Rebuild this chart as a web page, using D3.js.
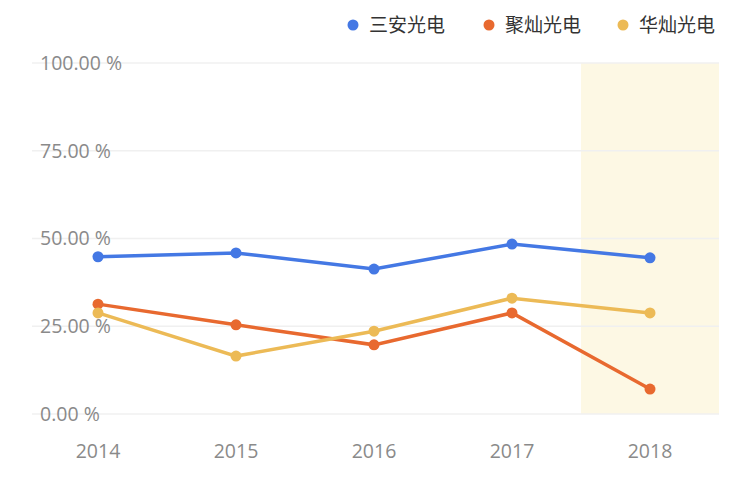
<!DOCTYPE html><html><head><meta charset="utf-8"><script src="https://cdn.jsdelivr.net/npm/d3@7"></script>
<style>body{margin:0;background:#fff;font-family:"Noto Sans CJK SC","Noto Sans",sans-serif}</style></head><body><svg width="744" height="481"></svg>
<script>
const years=["2014","2015","2016","2017","2018"];
const seriesNames=["三安光电","聚灿光电","华灿光电"];
const sanan=[44.8,45.9,41.3,48.4,44.5];
const jucan=[31.3,25.4,19.7,28.8,7.1];
const huacan=[28.8,16.5,23.6,33.0,28.8];
const yTicks=[0,25,50,75,100];
const colors=["#4478e4","#e8692f","#ecba56"];
const data=[sanan,jucan,huacan];
const svg=d3.select("svg");
const x=d3.scaleBand().domain(years).range([29,719]);
const y=d3.scaleLinear().domain([0,100]).range([414,63]);
svg.append("rect").attr("x",x("2018")).attr("y",y(100)).attr("width",x.bandwidth()).attr("height",y(0)-y(100)).attr("fill","#fdf8e4");
svg.selectAll(".g").data(yTicks).join("line").attr("x1",32).attr("x2",719).attr("y1",d=>y(d)).attr("y2",d=>y(d)).attr("stroke","#f0f0f0").attr("stroke-width",1.5);
svg.selectAll(".yl").data(yTicks).join("text").attr("x",40).attr("y",d=>y(d)).attr("dy","0.35em").attr("fill","#8a8a8a").attr("font-size",19.5).attr("font-family","'Open Sans', sans-serif").text(d=>d3.format(".2f")(d)+" %");
svg.selectAll(".xl").data(years).join("text").attr("x",d=>x(d)+x.bandwidth()/2).attr("y",458).attr("text-anchor","middle").attr("fill","#8a8a8a").attr("font-size",19.5).attr("font-family","'Open Sans', sans-serif").text(d=>d);
const line=d3.line().x((d,i)=>x(years[i])+x.bandwidth()/2).y(d=>y(d));
data.forEach((s,k)=>{
 svg.append("path").attr("d",line(s)).attr("fill","none").attr("stroke",colors[k]).attr("stroke-width",3.5);
 svg.selectAll(null).data(s).join("circle").attr("cx",(d,i)=>x(years[i])+x.bandwidth()/2).attr("cy",d=>y(d)).attr("r",5.5).attr("fill",colors[k]);
});
const lx=[353,489,623];
seriesNames.forEach((n,k)=>{
 svg.append("circle").attr("cx",lx[k]).attr("cy",25).attr("r",5.5).attr("fill",colors[k]);
 svg.append("text").attr("x",lx[k]+16).attr("y",25).attr("dy","0.35em").attr("font-size",19).attr("fill","#333").text(n);
});
</script></body></html>
